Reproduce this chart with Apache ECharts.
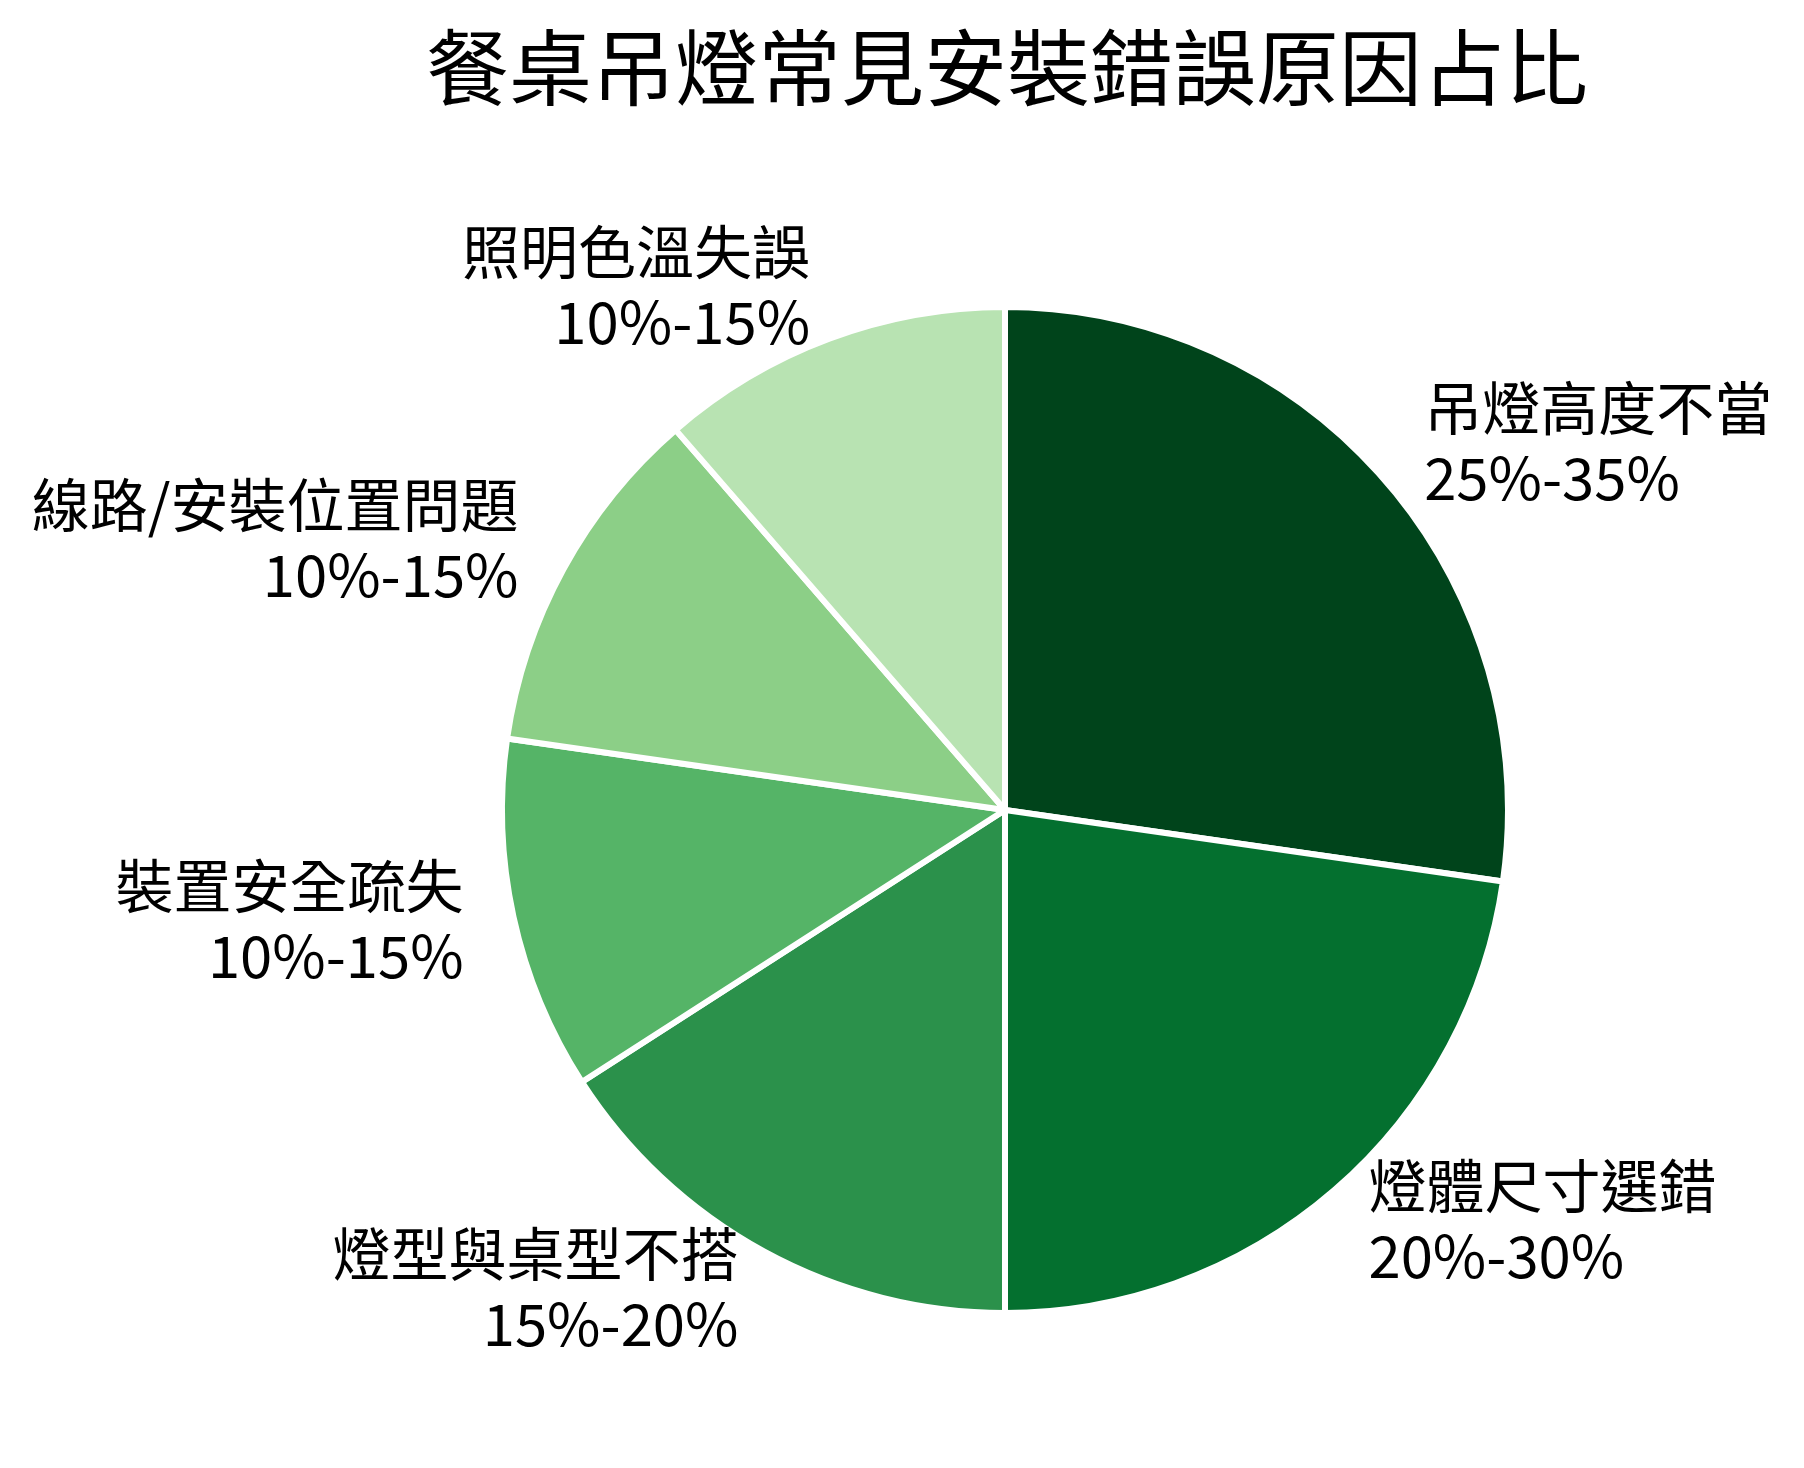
<!DOCTYPE html>
<html>
<head>
<meta charset="utf-8">
<script src="https://cdn.jsdelivr.net/npm/echarts@6/dist/echarts.min.js"></script>
<style>
html,body{margin:0;padding:0;background:#fff;}
#chart{width:1804px;height:1468px;}
</style>
</head>
<body>
<div id="chart"></div>
<script>
const categories = ['吊燈高度不當', '燈體尺寸選錯', '燈型與桌型不搭', '裝置安全疏失', '線路/安裝位置問題', '照明色溫失誤'];
const values = [30, 25, 17.5, 12.5, 12.5, 12.5];
const rangeLabels = ['25%-35%', '20%-30%', '15%-20%', '10%-15%', '10%-15%', '10%-15%'];
const colors = ['#00441b', '#04702f', '#2b914b', '#55b467', '#8ccf87', '#b8e3b2'];

const chart = echarts.init(document.getElementById('chart'));
const font = '"Noto Sans CJK TC", "Noto Sans CJK SC", sans-serif';
chart.setOption({
  backgroundColor: '#ffffff',
  animation: false,
  title: {
    text: '餐桌吊燈常見安裝錯誤原因占比',
    left: 1002,
    top: 20,
    textAlign: 'center',
    textStyle: { fontFamily: font, fontSize: 83, fontWeight: 'normal', color: '#000', lineHeight: 84 }
  },
  series: [{
    type: 'pie',
    center: [1005, 810],
    radius: [0, 503],
    startAngle: 90,
    clockwise: true,
    avoidLabelOverlap: false,
    data: categories.map((c, i) => ({ name: c, value: values[i], itemStyle: { color: colors[i] } })),
    itemStyle: { borderColor: '#ffffff', borderWidth: 6 },
    label: {
      show: true,
      position: 'outside',
      alignTo: 'none',
      distanceToLabelLine: 2,
      formatter: p => '{a|' + p.name + '}\n{a|' + rangeLabels[p.dataIndex] + '}\n{g| }',
      fontFamily: font,
      fontSize: 58,
      lineHeight: 70,
      color: '#000',
      rich: {
        a: { fontFamily: font, fontSize: 58, lineHeight: 70, color: '#000' },
        g: { fontSize: 8, lineHeight: 12 }
      }
    },
    labelLine: { show: false, length: 49, length2: 0 },
    emphasis: { disabled: true }
  }]
});
</script>
</body>
</html>
